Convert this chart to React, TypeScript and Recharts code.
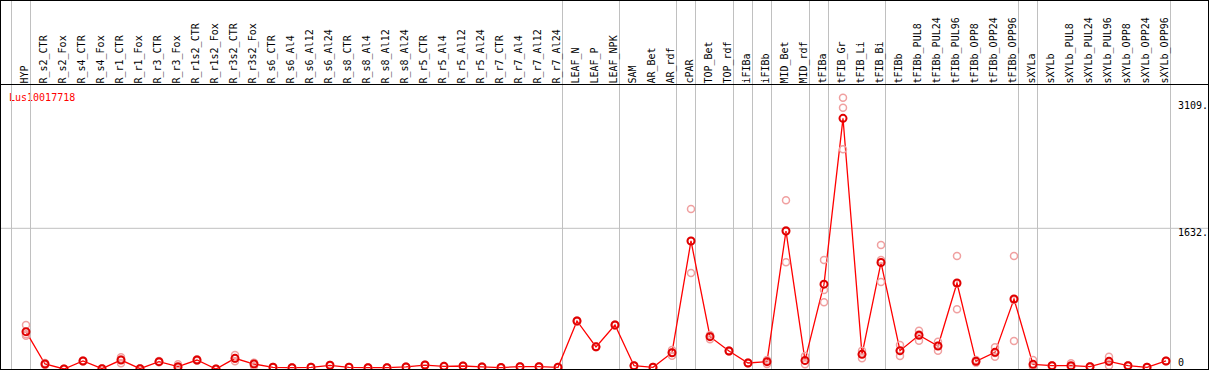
import { ComposedChart, Line, Scatter, XAxis, YAxis, ReferenceLine, Customized } from "recharts";

const PROBE = "Lus10017718";

const CATEGORIES = [
  "HYP",
  "R_s2_CTR", "R_s2_Fox", "R_s4_CTR", "R_s4_Fox", "R_r1_CTR", "R_r1_Fox", "R_r3_CTR", "R_r3_Fox",
  "R_r1s2_CTR", "R_r1s2_Fox", "R_r3s2_CTR", "R_r3s2_Fox",
  "R_s6_CTR", "R_s6_Al4", "R_s6_Al12", "R_s6_Al24",
  "R_s8_CTR", "R_s8_Al4", "R_s8_Al12", "R_s8_Al24",
  "R_r5_CTR", "R_r5_Al4", "R_r5_Al12", "R_r5_Al24",
  "R_r7_CTR", "R_r7_Al4", "R_r7_Al12", "R_r7_Al24",
  "LEAF_N", "LEAF_P", "LEAF_NPK",
  "SAM", "AR_Bet", "AR_rdf",
  "cPAR",
  "TOP_Bet", "TOP_rdf",
  "iFIBa",
  "iFIBb",
  "MID_Bet", "MID_rdf",
  "tFIBa",
  "tFIB_Gr", "tFIB_Li", "tFIB_Bi",
  "tFIBb", "tFIBb_PUL8", "tFIBb_PUL24", "tFIBb_PUL96", "tFIBb_OPP8", "tFIBb_OPP24", "tFIBb_OPP96",
  "sXYLa",
  "sXYLb", "sXYLb_PUL8", "sXYLb_PUL24", "sXYLb_PUL96", "sXYLb_OPP8", "sXYLb_OPP24", "sXYLb_OPP96",
];

// columns per sample group, a divider is drawn after each group
const GROUP_SIZES = [1, 28, 3, 3, 1, 2, 1, 1, 2, 1, 3, 7, 1, 7];

const MEANS = [
  433,
  58, 0, 93, 4, 104, 4, 85, 27,
  104, 0, 124, 58,
  20, 15, 20, 43,
  20, 15, 15, 24,
  46, 31, 35, 24,
  17, 27, 27, 20,
  557, 257, 510,
  38, 20, 189,
  1485,
  375, 209,
  70,
  85,
  1601, 100,
  984,
  2908, 170, 1235,
  213, 391, 267, 997, 89, 193, 812,
  54,
  39, 39, 27, 89, 39, 20, 93,
];

const REP_A = [
  510,
  70, 4, 100, 8, 135, 8, 93, 54,
  112, 2, 162, 70,
  24, 19, 24, 47,
  24, 19, 19, 28,
  50, 35, 39, 28,
  21, 31, 31, 24,
  562, 262, 515,
  42, 24, 220,
  1856,
  394, 215,
  74,
  104,
  1957, 151,
  1264,
  3147, 213, 1438,
  278, 445, 317, 1311, 104, 251, 1311,
  104,
  43, 66, 31, 143, 43, 24, 97,
];

const REP_B = [
  403,
  58, 0, 93, 4, 110, 4, 85, 20,
  104, 0, 120, 73,
  20, 15, 20, 43,
  20, 15, 15, 24,
  46, 31, 35, 24,
  17, 27, 27, 20,
  557, 257, 510,
  38, 20, 192,
  1485,
  387, 209,
  70,
  93,
  1609, 96,
  916,
  3031, 173, 1264,
  210, 399, 271, 988, 89, 185, 800,
  31,
  39, 27, 27, 85, 39, 20, 93,
];

const REP_C = [
  386,
  46, 0, 86, 0, 66, 0, 77, 8,
  96, 0, 90, 31,
  16, 11, 16, 39,
  16, 11, 11, 20,
  42, 27, 31, 20,
  13, 23, 23, 16,
  552, 252, 505,
  34, 16, 155,
  1114,
  344, 203,
  66,
  58,
  1237, 54,
  773,
  2548, 124, 1009,
  151, 329, 213, 692, 74, 143, 325,
  27,
  35, 24, 23, 39, 35, 16, 89,
];

const Y_TICKS = [0, 1632, 3109];
const Y_TICK_LABELS = ["0", "1632.", "3109."];

const W = 1209;
const H = 370;
const STEP = 19; // px between columns
const FIRST_X = 26; // px of the first column
const X_MIN = -FIRST_X / STEP;
const X_MAX = X_MIN + W / STEP;
const UNITS_PER_PX = 11.6;
const Y_MAX = (H - 1) * UNITS_PER_PX;
const DIV_OFFSET = 4.5 / STEP;
const FONT = "'DejaVu Sans Mono', monospace";

const dividers: number[] = [-1];
let acc = -1;
for (const n of GROUP_SIZES) {
  acc += n;
  dividers.push(acc);
}

const meanData = CATEGORIES.map((name, i) => ({ i, name, mean: MEANS[i] }));
const repData = CATEGORIES.flatMap((_, i) => [REP_A[i], REP_B[i], REP_C[i]].map((v) => ({ i, v })));
const indices = CATEGORIES.map((_, i) => i);

function HeaderTick({ x, payload }: any) {
  const px = x + 1.5;
  const py = 83.5;
  return (
    <text x={px} y={py} transform={`rotate(-90 ${px} ${py})`} fontSize={10} fontFamily={FONT} fill="#000" textAnchor="start">
      {CATEGORIES[payload.value]}
    </text>
  );
}

function ValueTick({ y, payload }: any) {
  const label = Y_TICK_LABELS[Y_TICKS.indexOf(payload.value)];
  return (
    <text x={1178} y={Math.min(y + 8, 365.5)} fontSize={10} fontFamily={FONT} fill="#000" textAnchor="start">
      {label}
    </text>
  );
}

function MeanDot({ cx, cy, index }: any) {
  return <circle key={index} cx={cx} cy={cy} r={3.5} fill="none" stroke="#e00000" strokeWidth={2} />;
}

function RepDot({ cx, cy }: any) {
  return <circle cx={cx} cy={cy} r={3.5} fill="none" stroke="#f0a0a0" strokeWidth={1.5} />;
}

export default function App() {
  return (
    <div style={{ position: "absolute", left: 0, top: 0, width: W, height: H, background: "#fff" }}>
      <ComposedChart width={W} height={H} data={meanData} margin={{ top: 0, right: 0, bottom: 1, left: 0 }}>
        <XAxis
          dataKey="i"
          type="number"
          orientation="top"
          mirror
          domain={[X_MIN, X_MAX]}
          allowDataOverflow
          ticks={indices}
          interval={0}
          axisLine={false}
          tickLine={false}
          tick={<HeaderTick />}
        />
        <YAxis
          type="number"
          orientation="right"
          mirror
          domain={[0, Y_MAX]}
          allowDataOverflow
          ticks={Y_TICKS}
          interval={0}
          axisLine={false}
          tickLine={false}
          tick={<ValueTick />}
        />
        {dividers.map((d) => (
          <ReferenceLine key={d} x={d + DIV_OFFSET} stroke="#c0c0c0" strokeWidth={1} ifOverflow="visible" />
        ))}
        <ReferenceLine y={1632} stroke="#c0c0c0" strokeWidth={1} />
        <Scatter data={repData} dataKey="v" shape={<RepDot />} isAnimationActive={false} />
        <Line
          dataKey="mean"
          stroke="#ff0000"
          strokeWidth={1.3}
          dot={<MeanDot />}
          activeDot={false}
          isAnimationActive={false}
        />
        <Customized
          component={() => (
            <text x={9} y={101} fontSize={10} fontFamily={FONT} fill="#ff0000">
              {PROBE}
            </text>
          )}
        />
      </ComposedChart>
      <div style={{ position: "absolute", left: 0, top: 84, width: W, height: 1, background: "#000" }} />
      <div
        style={{
          position: "absolute",
          left: 0,
          top: 0,
          width: W,
          height: H,
          boxSizing: "border-box",
          border: "1px solid #000",
          pointerEvents: "none",
        }}
      />
    </div>
  );
}
